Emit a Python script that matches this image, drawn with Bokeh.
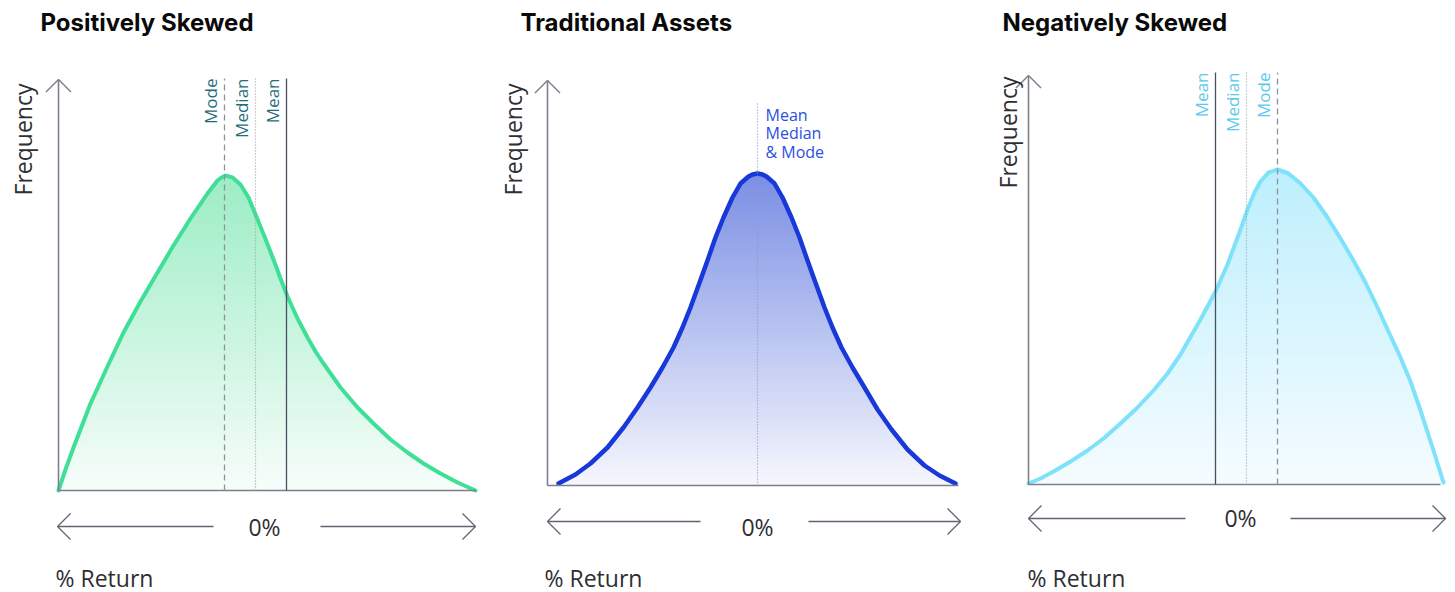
import numpy as np
from bokeh.plotting import figure
from bokeh.models import Range1d, Label
from bokeh.layouts import row
from bokeh.embed import file_html
from bokeh.resources import INLINE

# ---------------- data ----------------
titles = ["Positively Skewed", "Traditional Assets", "Negatively Skewed"]
y_axis_label = "Frequency"
x_axis_label = "% Return"
zero_label = "0%"

# Positively skewed curve (return units, frequency units)
pos_return = [0, 7, 15, 32, 49, 65, 82, 99, 115, 132, 149, 159, 163, 167, 174,
              182, 190, 197, 206, 215, 222, 229, 239, 249, 257, 265, 282, 299,
              315, 332, 349, 365, 382, 399, 417]
pos_freq = [0, 21, 43, 87, 124, 158, 189, 218, 245, 272, 297, 310, 313, 315,
            313, 306, 293, 276, 254, 231, 212, 194, 172, 153, 139, 127, 103,
            83, 67, 51, 38, 27, 17, 8, 0]
pos_mode, pos_median, pos_mean = 166, 197, 228
pos_marker_labels = ["Mode", "Median", "Mean"]

# Traditional assets (symmetric) curve
trad_return = [11, 28, 43, 60, 76, 90, 103, 115, 126, 135, 143, 151, 160, 168,
               176, 185, 193, 201, 205, 210, 215, 219, 227, 235, 244, 252, 260,
               269, 277, 285, 294, 305, 317, 330, 344, 360, 377, 392, 408]
trad_freq = [2, 11, 22, 38, 58, 78, 98, 118, 138, 158, 178, 200, 225, 248, 268,
             288, 302, 309, 311, 312, 311, 309, 302, 288, 268, 248, 225, 200,
             178, 158, 138, 118, 98, 76, 56, 36, 20, 10, 2]
trad_center = 210
trad_marker_labels = ["Mean", "Median", "& Mode"]

# Negatively skewed curve
neg_return = [0, 12, 25, 42, 59, 75, 92, 108, 125, 139, 152, 172, 187, 199,
              212, 219, 226, 232, 240, 249, 260, 272, 285, 299, 312, 325, 337,
              349, 360, 372, 382, 392, 405, 415]
neg_freq = [1, 6, 13, 23, 34, 46, 61, 76, 94, 111, 130, 165, 193, 220, 255,
            275, 292, 303, 312, 315, 311, 301, 287, 267, 246, 224, 202, 177,
            153, 127, 103, 74, 34, 2]
neg_mean, neg_median, neg_mode = 187, 218, 249
neg_marker_labels = ["Mean", "Median", "Mode"]

# ---------------- styling ----------------
H = 592
TXT = "#2e2e33"
AXIS = "#7c808c"
BODY_FONT = "Open Sans"
TITLE_FONT = "Inter"


def hex_to_rgb(h):
    h = h.lstrip("#")
    return np.array([int(h[i:i + 2], 16) for i in (0, 2, 4)], dtype=float)


def rgb_to_hex(c):
    c = np.clip(np.round(c), 0, 255).astype(int)
    return "#%02x%02x%02x" % tuple(c)


def make_panel(fx, w, ox, oy, xs, ys, line_color, top_col, bot_col, line_w):
    p = figure(width=w, height=H,
               x_range=Range1d(fx - ox, fx + w - ox),
               y_range=Range1d(oy - H, oy),
               output_backend="svg", toolbar_location=None,
               min_border=0, min_border_left=0, min_border_right=0,
               min_border_top=0, min_border_bottom=0)
    p.axis.visible = False
    p.grid.visible = False
    p.outline_line_color = None
    p.background_fill_color = "white"
    p.border_fill_color = "white"

    xs = np.asarray(xs, dtype=float)
    ys = np.asarray(ys, dtype=float)
    peak = ys.max()
    top = hex_to_rgb(top_col)
    bot = hex_to_rgb(bot_col)
    n = 60
    for k in range(n, 0, -1):
        hi = peak * k / n
        t = (k - 0.5) / n
        col = rgb_to_hex(bot + (top - bot) * t)
        p.varea(x=xs, y1=np.zeros_like(ys), y2=np.minimum(ys, hi),
                fill_color=col, fill_alpha=1.0)
    p.line(xs, ys, line_color=line_color, line_width=line_w,
           line_cap="round", line_join="round")
    return p


def axes_decor(p, ox, oy, ytop_page, xend, arrow_y, arr_l, arr_r, gap_l, gap_r):
    ytop = oy - ytop_page
    p.segment(x0=[0, 0], y0=[0, 0], x1=[0, xend], y1=[ytop, 0],
              line_color=AXIS, line_width=1.6)
    p.segment(x0=[-12.5, 12.5], y0=[ytop - 12.5, ytop - 12.5],
              x1=[0, 0], y1=[ytop, ytop], line_color=AXIS, line_width=1.4)
    # bottom double arrow
    p.segment(x0=[arr_l, gap_r], y0=[arrow_y, arrow_y],
              x1=[gap_l, arr_r], y1=[arrow_y, arrow_y],
              line_color="#5f6372", line_width=1.3)
    p.segment(x0=[arr_l + 13, arr_l + 13, arr_r - 13, arr_r - 13],
              y0=[arrow_y + 13, arrow_y - 13, arrow_y + 13, arrow_y - 13],
              x1=[arr_l, arr_l, arr_r, arr_r],
              y1=[arrow_y, arrow_y, arrow_y, arrow_y],
              line_color="#5f6372", line_width=1.3)


def label(p, x, y, text, size, color=TXT, font=BODY_FONT, style="normal",
          angle=0.0, align="left", baseline="middle"):
    p.add_layout(Label(x=x, y=y, text=text, text_font=font,
                       text_font_size=f"{size}px", text_color=color,
                       text_font_style=style, angle=angle,
                       text_align=align, text_baseline=baseline))


def common_text(p, ox, oy, title, title_x, freq_x, freq_y, zero_x, zero_y,
                ret_x):
    label(p, title_x - ox, oy - 22, title, 24, color="#0a0a0a",
          font=TITLE_FONT, style="bold")
    label(p, freq_x - ox, oy - freq_y, y_axis_label, 23, angle=np.pi / 2,
          align="center")
    label(p, zero_x - ox, oy - zero_y, zero_label, 23, align="center")
    label(p, ret_x - ox, oy - 577, x_axis_label, 23)


# ---- panel 1 : positively skewed ----
ox1, oy1 = 58, 490
p1 = make_panel(0, 485, ox1, oy1, pos_return, pos_freq, "#3fdf98",
                "#9cedc5", "#f7fdfa", 4)
axes_decor(p1, ox1, oy1, 79, 417, oy1 - 526, -1, 417, 155, 262)
mtop1 = oy1 - 78
p1.segment(x0=[pos_mode], y0=[0], x1=[pos_mode], y1=[mtop1],
           line_color="#8d929c", line_width=1.3, line_dash="6 4")
p1.segment(x0=[pos_median], y0=[0], x1=[pos_median], y1=[mtop1],
           line_color="#9a9fa8", line_width=1.2, line_dash="1 2")
p1.segment(x0=[pos_mean], y0=[0], x1=[pos_mean], y1=[mtop1],
           line_color="#4a4e5e", line_width=1.3)
for xv, txt in zip([pos_mode, pos_median, pos_mean], pos_marker_labels):
    label(p1, xv - 14, mtop1, txt, 17, color="#1f6e7c", angle=np.pi / 2,
          align="right")
common_text(p1, ox1, oy1, titles[0], 40, 22, 139, 264, 526, 55)

# ---- panel 2 : traditional assets ----
ox2, oy2 = 547, 485
p2 = make_panel(485, 485, ox2, oy2, trad_return, trad_freq, "#1838d8",
                "#7a8ee4", "#f6f7fd", 4.5)
axes_decor(p2, ox2, oy2, 80, 411, oy2 - 521, 0, 413, 153, 261)
p2.segment(x0=[trad_center], y0=[0], x1=[trad_center], y1=[oy2 - 103],
           line_color="#8e97bf", line_width=1.2, line_dash="1 2")
for i, txt in enumerate(trad_marker_labels):
    label(p2, trad_center + 8, oy2 - (114 + 18.5 * i), txt, 16,
          color="#2b4fe0")
common_text(p2, ox2, oy2, titles[1], 520, 512, 139, 757, 526, 544)

# ---- panel 3 : negatively skewed ----
ox3, oy3 = 1028, 484
p3 = make_panel(970, 485, ox3, oy3, neg_return, neg_freq, "#80e1fa",
                "#bdeffd", "#f5fcff", 4)
axes_decor(p3, ox3, oy3, 75, 412, oy3 - 518, 0, 417, 157, 262)
mtop3 = oy3 - 72
p3.segment(x0=[neg_mean], y0=[0], x1=[neg_mean], y1=[mtop3],
           line_color="#4a4e5e", line_width=1.3)
p3.segment(x0=[neg_median], y0=[0], x1=[neg_median], y1=[mtop3],
           line_color="#9a9fa8", line_width=1.2, line_dash="1 2")
p3.segment(x0=[neg_mode], y0=[0], x1=[neg_mode], y1=[mtop3],
           line_color="#8d929c", line_width=1.3, line_dash="6 4")
for xv, txt in zip([neg_mean, neg_median, neg_mode], neg_marker_labels):
    label(p3, xv - 14, mtop3, txt, 17, color="#5cc8ee", angle=np.pi / 2,
          align="right")
common_text(p3, ox3, oy3, titles[2], 1002, 1007, 132, 1240, 517, 1027)

layout = row(p1, p2, p3, spacing=0)
open("out.html", "w").write(file_html(layout, INLINE))
